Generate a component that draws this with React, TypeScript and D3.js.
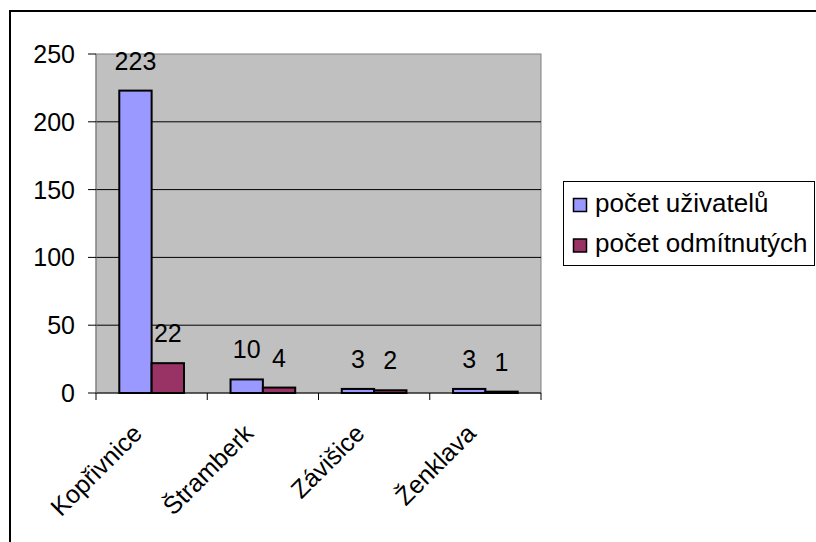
import React from "react";
import * as d3 from "d3";

const categories = ["Kopřivnice", "Štramberk", "Závišice", "Ženklava"];
const seriesNames = ["počet uživatelů", "počet odmítnutých"];
const users = [223, 10, 3, 3];
const rejected = [22, 4, 2, 1];
const yTicks = [0, 50, 100, 150, 200, 250];
const colors = ["#9999FF", "#993366"];

const W = 816;
const H = 542;
const plot = { left: 96, right: 541, top: 54, bottom: 393 };
const FONT = "'Liberation Sans', Arial, sans-serif";

export default function App() {
  const series = [users, rejected];
  const x = d3.scaleBand<string>().domain(categories).range([plot.left, plot.right]).paddingInner(0).paddingOuter(0);
  const xs = d3.scaleBand<string>().domain(seriesNames).range([0, x.bandwidth()]).paddingInner(0).paddingOuter(0.72);
  const y = d3.scaleLinear().domain([0, 250]).range([plot.bottom, plot.top]);
  const boundaries = d3.range(categories.length + 1).map((i) => plot.left + i * x.step());

  return (
    <svg width={W} height={H} style={{ position: "absolute", left: 0, top: 0, background: "#fff" }} fontFamily={FONT}>
      <rect x={0} y={0} width={W} height={H} fill="#fff" />
      {/* outer frame */}
      <rect x={10} y={11} width={900} height={700} fill="none" stroke="#000" strokeWidth={2} />
      {/* plot area */}
      <rect x={plot.left} y={plot.top} width={plot.right - plot.left} height={plot.bottom - plot.top} fill="#C0C0C0" stroke="#808080" strokeWidth={1} />
      {yTicks.filter((t) => t > 0 && t < 250).map((t) => (
        <line key={"g" + t} x1={plot.left} x2={plot.right} y1={y(t)} y2={y(t)} stroke="#000" strokeWidth={1} />
      ))}
      {/* bars */}
      {categories.map((c, i) =>
        series.map((s, j) => {
          const bx = (x(c) as number) + (xs(seriesNames[j]) as number);
          const by = y(s[i]);
          return (
            <rect key={c + j} x={bx} y={by} width={xs.bandwidth()} height={y(0) - by} fill={colors[j]} stroke="#000" strokeWidth={2} />
          );
        })
      )}
      {/* x axis */}
      <line x1={plot.left} x2={plot.right} y1={plot.bottom} y2={plot.bottom} stroke="#000" strokeWidth={1} />
      {boundaries.map((bx, i) => (
        <line key={"xt" + i} x1={bx} x2={bx} y1={plot.bottom} y2={plot.bottom + 7} stroke="#000" strokeWidth={1} />
      ))}
      {/* y axis */}
      <line x1={plot.left} x2={plot.left} y1={plot.top} y2={plot.bottom} stroke="#808080" strokeWidth={1} />
      {yTicks.map((t) => (
        <g key={"yt" + t}>
          <line x1={plot.left - 8} x2={plot.left} y1={y(t)} y2={y(t)} stroke="#000" strokeWidth={1} />
          <text x={75} y={y(t)} dy="0.36em" textAnchor="end" fontSize={25} fill="#000">{t}</text>
        </g>
      ))}
      {/* data labels */}
      {categories.map((c, i) =>
        series.map((s, j) => {
          const cx = (x(c) as number) + (xs(seriesNames[j]) as number) + xs.bandwidth() / 2;
          return (
            <text key={"l" + c + j} x={cx} y={y(s[i]) - 21} textAnchor="middle" fontSize={25} fill="#000">{s[i]}</text>
          );
        })
      )}
      {/* category labels */}
      {categories.map((c) => {
        const ax = (x(c) as number) + x.bandwidth() / 2 - 8;
        const ay = 435;
        return (
          <text key={"c" + c} x={ax} y={ay} textAnchor="end" fontSize={25} fill="#000" transform={`rotate(-45, ${ax}, ${ay})`}>{c}</text>
        );
      })}
      {/* legend */}
      <rect x={563.5} y={181.5} width={251} height={84} fill="#fff" stroke="#000" strokeWidth={1} />
      {seriesNames.map((n, j) => (
        <g key={"lg" + j}>
          <rect x={573.5} y={198.5 + j * 40.5} width={13} height={13} fill={colors[j]} stroke="#000" strokeWidth={1.5} />
          <text x={595} y={211.5 + j * 40.5} fontSize={26} fill="#000">{n}</text>
        </g>
      ))}
    </svg>
  );
}
